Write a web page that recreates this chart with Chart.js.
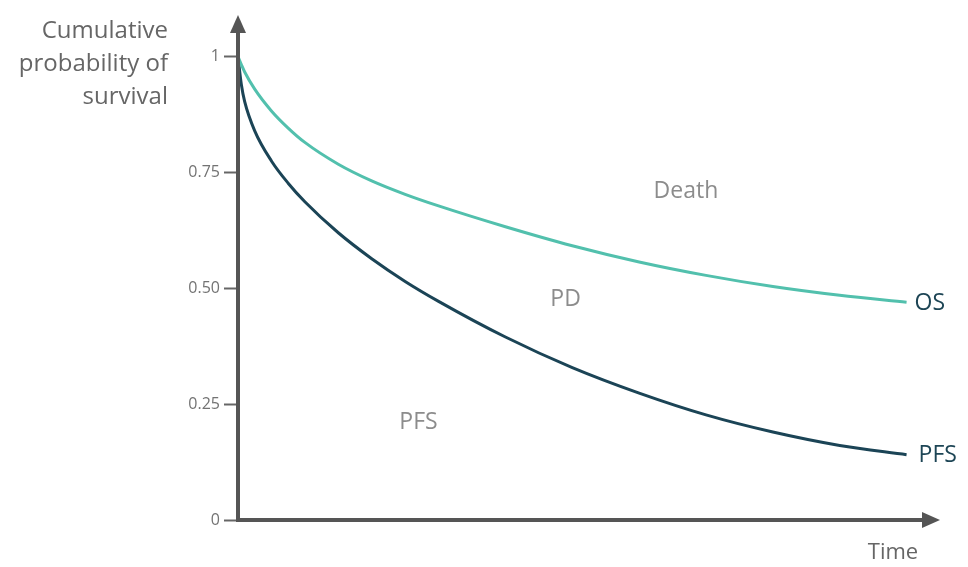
<!DOCTYPE html>
<html>
<head>
<meta charset="utf-8">
<script src="https://cdn.jsdelivr.net/npm/chart.js@4/dist/chart.umd.min.js"></script>
<style>
  html, body { margin: 0; padding: 0; background: #fff; }
  #wrap { width: 968px; height: 567px; }
</style>
</head>
<body>
<div id="wrap"><canvas id="survChart" width="968" height="567"></canvas></div>
<script>
// time points (arbitrary units) and survival estimates
const timePoints = [0, 0.05, 0.1, 0.25, 0.5, 0.75, 1, 1.5, 2, 2.5, 3, 4, 5, 6, 7, 8, 9, 10];
const osValues   = [1.0, 0.983, 0.967, 0.93, 0.883, 0.846, 0.815, 0.768, 0.732, 0.703, 0.678, 0.633, 0.592, 0.557, 0.528, 0.504, 0.485, 0.47];
const pfsValues  = [1.0, 0.94, 0.903, 0.84, 0.775, 0.727, 0.687, 0.62, 0.564, 0.515, 0.472, 0.395, 0.329, 0.274, 0.227, 0.19, 0.161, 0.141];
const yTicks     = [0, 0.25, 0.5, 0.75, 1];
const yTickText  = ["0", "0.25", "0.50", "0.75", "1"];

// region labels: [text, time, probability]
const regionLabels = [
  ["Death", 6.7, 0.71],
  ["PD", 4.9, 0.475],
  ["PFS", 2.7, 0.21]
];

const FONT = "'Open Sans', 'DejaVu Sans', sans-serif";
const AXIS = "#555555";

function toPoints(vals) {
  return timePoints.map((t, i) => ({ x: t, y: vals[i] }));
}

const decorations = {
  id: "decorations",
  afterDraw(chart) {
    const ctx = chart.ctx;
    const xs = chart.scales.x, ys = chart.scales.y;
    const x0 = xs.getPixelForValue(0);
    const y0 = ys.getPixelForValue(0);
    const top = chart.chartArea.top;
    const right = chart.chartArea.right;

    ctx.save();
    // axes
    ctx.strokeStyle = AXIS;
    ctx.fillStyle = AXIS;
    ctx.lineWidth = 4;
    ctx.beginPath();
    ctx.moveTo(x0, y0);
    ctx.lineTo(x0, top + 14);
    ctx.moveTo(x0 - 2, y0);
    ctx.lineTo(right - 14, y0);
    ctx.stroke();
    // arrow heads
    ctx.beginPath();
    ctx.moveTo(x0, top);
    ctx.lineTo(x0 - 8, top + 18);
    ctx.lineTo(x0 + 8, top + 18);
    ctx.closePath();
    ctx.fill();
    ctx.beginPath();
    ctx.moveTo(right, y0);
    ctx.lineTo(right - 18, y0 - 8);
    ctx.lineTo(right - 18, y0 + 8);
    ctx.closePath();
    ctx.fill();

    // y axis title
    ctx.fillStyle = "#666666";
    ctx.font = "24px " + FONT;
    ctx.textAlign = "right";
    ctx.textBaseline = "middle";
    ctx.fillText("Cumulative", 168, 31);
    ctx.fillText("probability of", 168, 64);
    ctx.fillText("survival", 168, 97);

    // x axis title
    ctx.textAlign = "center";
    ctx.font = "22px " + FONT;
    ctx.fillText("Time", 893, 553);

    // region labels
    ctx.fillStyle = "#8c8c8c";
    ctx.font = "23px " + FONT;
    regionLabels.forEach(([txt, t, p]) => {
      ctx.fillText(txt, xs.getPixelForValue(t), ys.getPixelForValue(p));
    });

    // curve end labels
    ctx.fillStyle = "#1d4555";
    ctx.textAlign = "left";
    const last = timePoints.length - 1;
    ctx.fillText("OS", xs.getPixelForValue(timePoints[last]) + 8, ys.getPixelForValue(osValues[last]) + 1);
    ctx.fillText("PFS", xs.getPixelForValue(timePoints[last]) + 12, ys.getPixelForValue(pfsValues[last]) + 1);
    ctx.restore();
  }
};

new Chart(document.getElementById("survChart"), {
  type: "line",
  data: {
    datasets: [
      {
        label: "OS",
        data: toPoints(osValues),
        borderColor: "#52c0ad",
        borderWidth: 3,
        pointRadius: 0,
        cubicInterpolationMode: "monotone"
      },
      {
        label: "PFS",
        data: toPoints(pfsValues),
        borderColor: "#1b4456",
        borderWidth: 3,
        pointRadius: 0,
        cubicInterpolationMode: "monotone"
      }
    ]
  },
  options: {
    responsive: false,
    animation: false,
    layout: { padding: { top: 15, right: 28, bottom: 47, left: 0 } },
    plugins: { legend: { display: false }, tooltip: { enabled: false } },
    scales: {
      x: {
        type: "linear",
        min: 0,
        max: 10.5,
        display: false
      },
      y: {
        type: "linear",
        min: 0,
        max: 1.09,
        afterBuildTicks: (scale) => {
          scale.ticks = yTicks.map(v => ({ value: v }));
        },
        afterFit: (scale) => { scale.width = 238; },
        border: { display: false },
        grid: {
          drawOnChartArea: false,
          drawTicks: true,
          tickLength: 14,
          tickWidth: 2,
          color: "#666666"
        },
        ticks: {
          padding: 4,
          color: "#737373",
          font: { family: FONT, size: 16 },
          callback: (v) => {
            const i = yTicks.indexOf(v);
            return i >= 0 ? yTickText[i] : "";
          }
        }
      }
    }
  },
  plugins: [decorations]
});
</script>
</body>
</html>
